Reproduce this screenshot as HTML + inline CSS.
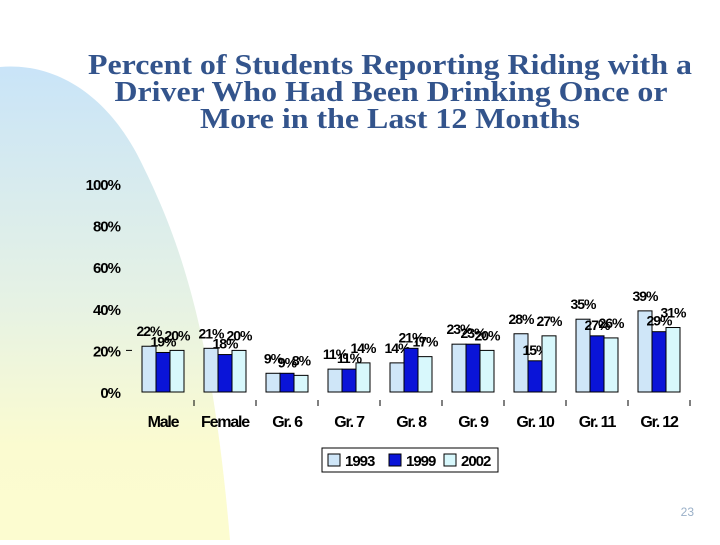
<!DOCTYPE html>
<html><head><meta charset="utf-8"><style>
body{margin:0;width:720px;height:540px;overflow:hidden;background:#fff;font-family:"Liberation Sans",Arial,sans-serif}
</style></head><body>
<svg width="720" height="540" xmlns="http://www.w3.org/2000/svg">
<defs><linearGradient id="bg" x1="0" y1="0" x2="0" y2="1"><stop offset="0" stop-color="#c9e4f8"/><stop offset="0.5" stop-color="#e6f2e4"/><stop offset="0.8" stop-color="#fbfbd0"/><stop offset="1" stop-color="#fcfcd0"/></linearGradient></defs>
<path d="M0,67 C60,62 110,100 140,160 C180,240 212,330 230,540 L0,540 Z" fill="url(#bg)"/>
<g font-family="'Liberation Serif',serif" font-size="28" font-weight="bold" fill="#33548c" text-anchor="middle">
<text x="390" y="74" textLength="604" lengthAdjust="spacingAndGlyphs">Percent of Students Reporting Riding with a</text>
<text x="391" y="101" textLength="553" lengthAdjust="spacingAndGlyphs">Driver Who Had Been Drinking Once or</text>
<text x="390" y="128" textLength="380" lengthAdjust="spacingAndGlyphs">More in the Last 12 Months</text>
</g>
<g id="chart"></g>
<g>
<rect x="322" y="448" width="176" height="24" fill="#fff" stroke="#000"/>
<rect x="328" y="454" width="12" height="12" fill="#cfe6f8" stroke="#000"/>
<text x="345" y="466" font-size="15" font-weight="bold" letter-spacing="-1">1993</text>
<rect x="389" y="454" width="12" height="12" fill="#0a14d8" stroke="#000"/>
<text x="406" y="466" font-size="15" font-weight="bold" letter-spacing="-1">1999</text>
<rect x="444" y="454" width="12" height="12" fill="#d8f8fc" stroke="#000"/>
<text x="461" y="466" font-size="15" font-weight="bold" letter-spacing="-1">2002</text>
</g>
<text x="694" y="516" font-size="12" fill="#9ab0c8" text-anchor="end">23</text>
</svg>
<script>
const categories=["Male","Female","Gr. 6","Gr. 7","Gr. 8","Gr. 9","Gr. 10","Gr. 11","Gr. 12"];
const v1993=[22,21,9,11,14,23,28,35,39];
const v1999=[19,18,9,11,21,23,15,27,29];
const v2002=[20,20,8,14,17,20,27,26,31];
const yTicks=[0,20,40,60,80,100];
const NS="http://www.w3.org/2000/svg";
const g=document.getElementById('chart');
const left=132,step=62,y0=392,pxPer=2.08,bw=14;
const y=v=>y0-v*pxPer;
const xc=i=>left+step*i+step/2;
function mk(t,a){const e=document.createElementNS(NS,t);for(const k in a)e.setAttribute(k,a[k]);g.appendChild(e);return e;}
yTicks.forEach(t=>{const e=mk('text',{x:120,y:y(t)+6,'text-anchor':'end','font-size':15,'font-weight':'bold','letter-spacing':'-1'});e.textContent=t+'%';

});
const tm=mk('line',{x1:126,x2:132,y1:y(20),y2:y(20),stroke:'#000'});


for(let i=1;i<=categories.length;i++){const l=mk('line',{x1:left+step*i,x2:left+step*i,y1:y0+8,y2:y0+14,stroke:'#000'});

}
const series=[[v1993,'#cfe6f8','1993'],[v1999,'#0a14d8','1999'],[v2002,'#d8f8fc','2002']];
categories.forEach((c,i)=>{
 const t=mk('text',{x:xc(i),y:427,'text-anchor':'middle','font-size':16,'font-weight':'bold','letter-spacing':'-1.2'});t.textContent=c;
 
 
 series.forEach((s,j)=>{
  const v=s[0][i];const x=xc(i)-21+j*bw;
  const r=mk('rect',{x:x,y:y(v),width:bw,height:v*pxPer,fill:s[1],stroke:'#000','stroke-width':1});
  
  
  const lb=mk('text',{x:x+bw/2,y:y(v)-6-(j==1?0:4),'text-anchor':'middle','font-size':14,'font-weight':'bold','letter-spacing':'-1'});lb.textContent=v+'%';
  
  
 });
});
</script>
</body></html>
